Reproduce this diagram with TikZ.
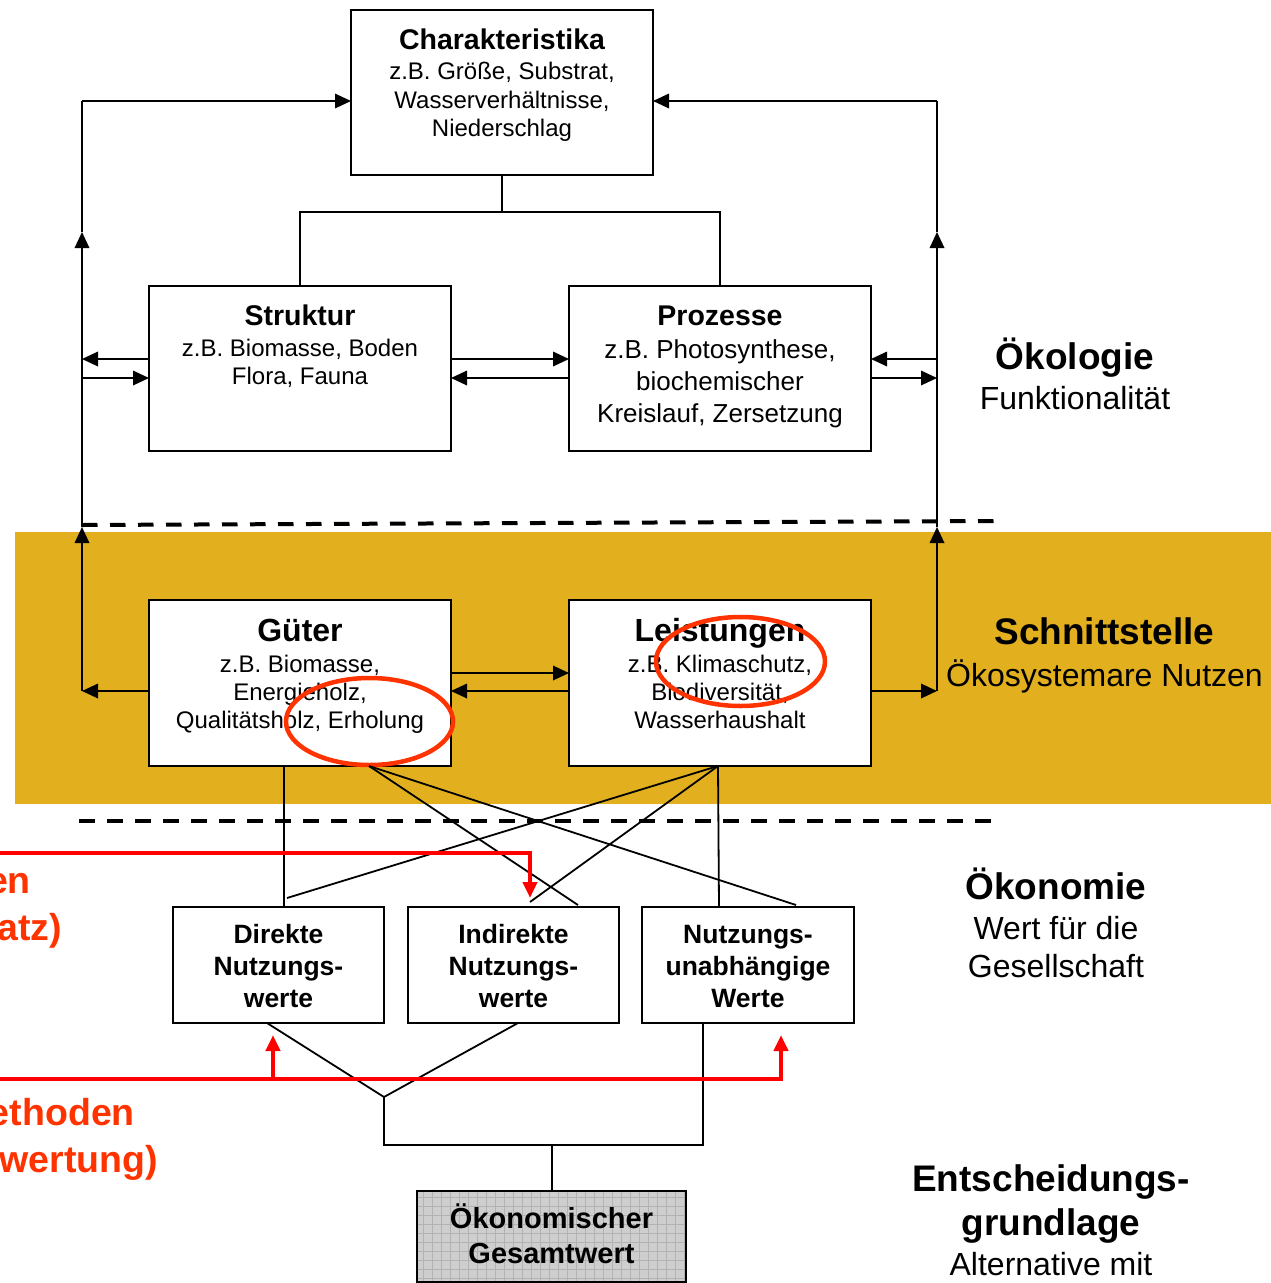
\documentclass[tikz,border=0pt]{standalone}
\usepackage{fontspec}
\setmainfont{Liberation Sans}
\usetikzlibrary{arrows.meta,shapes.geometric}
\definecolor{gold}{RGB}{226,175,31}
\definecolor{ored}{RGB}{255,51,0}
\definecolor{pred}{RGB}{255,0,0}
\definecolor{gfill}{RGB}{206,206,206}
\definecolor{gline}{RGB}{178,178,178}
\begin{document}
\begin{tikzpicture}[x=1pt,y=-1pt,
  box/.style={draw, line width=2pt, fill=white, inner sep=0pt, outer sep=0pt},
  ln/.style={line width=1.8pt},
  arr/.style={line width=1.8pt, -{Triangle[length=16pt,width=14.5pt]}},
  dline/.style={line width=4pt, dash pattern=on 15.5pt off 12.5pt},
  redarr/.style={draw=pred, line width=4pt, -{Triangle[length=16pt,width=14pt]}},
  ell/.style={draw=ored, line width=4.5pt, ellipse, inner sep=0pt},
  txt/.style={anchor=base, inner sep=0pt},
  fT/.style={font=\fontsize{28.5}{30}\selectfont\bfseries},
  fS/.style={font=\fontsize{24}{28}\selectfont},
  fP/.style={font=\fontsize{26}{30}\selectfont},
  fG/.style={font=\fontsize{32}{34}\selectfont\bfseries},
  fN/.style={font=\fontsize{26.5}{30}\selectfont\bfseries},
  fO/.style={font=\fontsize{29}{31}\selectfont\bfseries},
  fH/.style={font=\fontsize{37}{40}\selectfont\bfseries},
  fR/.style={font=\fontsize{32}{36}\selectfont},
  fRed/.style={font=\fontsize{37.5}{40}\selectfont\bfseries, text=ored, anchor=base east, inner sep=0pt}
]
\useasboundingbox (0,0) rectangle (1271,1283);
\fill[white] (0,0) rectangle (1271,1283);

% gold band
\fill[gold] (15,532) rectangle (1271,804);

% dashed separators
\draw[dline] (82,525) -- (995,521);
\draw[dline] (79,821) -- (992,821);

% boxes
\node[box, minimum width=302pt, minimum height=165pt] (char) at (502,92.5) {};
\node[box, minimum width=302pt, minimum height=165pt] (struk) at (300,368.5) {};
\node[box, minimum width=302pt, minimum height=165pt] (proz) at (720,368.5) {};
\node[box, minimum width=302pt, minimum height=166pt] (guet) at (300,683) {};
\node[box, minimum width=302pt, minimum height=166pt] (leist) at (720,683) {};
\node[box, minimum width=211pt, minimum height=116pt] (direkt) at (278.5,965) {};
\node[box, minimum width=211pt, minimum height=116pt] (indir) at (513.5,965) {};
\node[box, minimum width=212pt, minimum height=116pt] (unab) at (748,965) {};
\node[box, fill=gfill, minimum width=268.5pt, minimum height=90.5pt] (oek) at (551.5,1236.3) {};
\begin{scope}
  \clip (oek.south west) rectangle (oek.north east);
  \draw[gline, line width=0.6pt, step=9pt] (oek.south west) grid (oek.north east);
\end{scope}
\draw[line width=2pt] (oek.south west) rectangle (oek.north east);

% box texts
\node[txt,fT] (c0) at (502,49) {Charakteristika};
\node[txt,fS] (c1) at (502,79.5) {z.B. Größe, Substrat,};
\node[txt,fS] (c2) at (502,108) {Wasserverhältnisse,};
\node[txt,fS] (c3) at (502,136.5) {Niederschlag};

\node[txt,fT] (s0) at (300,325) {Struktur};
\node[txt,fS] (s1) at (300,356.5) {z.B. Biomasse, Boden};
\node[txt,fS] (s2) at (300,384.5) {Flora, Fauna};

\node[txt,fT] (p0) at (720,325) {Prozesse};
\node[txt,fP] (p1) at (720,358) {z.B. Photosynthese,};
\node[txt,fP] (p2) at (720,390) {biochemischer};
\node[txt,fP] (p3) at (720,422) {Kreislauf, Zersetzung};

\node[txt,fG] (g0) at (300,641) {Güter};
\node[txt,fS] (g1t) at (300,672) {z.B. Biomasse,};
\node[txt,fS] (g2t) at (300,700) {Energieholz,};
\node[txt,fS] (g3t) at (300,728.5) {Qualitätsholz, Erholung};

\node[txt,fG] (l0) at (720,641) {Leistungen};
\node[txt,fS] (l1t) at (720,672) {z.B. Klimaschutz,};
\node[txt,fS] (l2t) at (720,700) {Biodiversität,};
\node[txt,fS] (l3t) at (720,728.5) {Wasserhaushalt};

\node[txt,fN] (d0) at (278.5,943.5) {Direkte};
\node[txt,fN] (d1t) at (278.5,975.5) {Nutzungs-};
\node[txt,fN] (d2t) at (278.5,1007) {werte};

\node[txt,fN] (i0) at (513.5,943.5) {Indirekte};
\node[txt,fN] (i1t) at (513.5,975.5) {Nutzungs-};
\node[txt,fN] (i2t) at (513.5,1007) {werte};

\node[txt,fN] (u0) at (748,943.5) {Nutzungs-};
\node[txt,fN] (u1t) at (748,975.5) {unabhängige};
\node[txt,fN] (u2t) at (748,1007) {Werte};

\node[txt,fO] (o0) at (551.5,1228.5) {Ökonomischer};
\node[txt,fO] (o1) at (551.5,1263) {Gesamtwert};

% right-hand labels
\node[txt,fH] (k0) at (1075,369) {Ökologie};
\node[txt,fR] (k1) at (1075,409) {Funktionalität};
\node[txt,fH] (n0) at (1104.5,644) {Schnittstelle};
\node[txt,fR] (n1) at (1104.5,686) {Ökosystemare Nutzen};
\node[txt,fH] (m0) at (1056,899) {Ökonomie};
\node[txt,fR] (m1) at (1056,939) {Wert für die};
\node[txt,fR] (m2) at (1056,977) {Gesellschaft};
\node[txt,fH] (e0) at (1051,1191) {Entscheidungs-};
\node[txt,fH] (e1t) at (1051,1235) {grundlage};
\node[txt,fR] (e2t) at (1051,1275) {Alternative mit};

% red texts cut at left edge
\node[fRed] (q1) at (31,893) {en};
\node[fRed] (q2) at (62,940.5) {atz)};
\node[fRed] (q3) at (135,1125) {ethoden};
\node[fRed] (q4) at (158,1172) {wertung)};

% ellipses
\node[ell, minimum width=167pt, minimum height=87pt] (el1) at (369.5,721.5) {};
\node[ell, minimum width=169pt, minimum height=89pt] (el2) at (740.5,661.5) {};

% bus coordinates
\coordinate (Lt) at (82,101);
\coordinate (Lm) at (82,232);
\coordinate (Ld) at (82,527);
\coordinate (Lg) at (82,691);
\coordinate (La) at (82,359);
\coordinate (Lb) at (82,378);
\coordinate (Rt) at (937,101);
\coordinate (Rm) at (937,232);
\coordinate (Rd) at (937,527);
\coordinate (Rg) at (937,691);
\coordinate (Ra) at (937,359);
\coordinate (Rb) at (937,378);

% left bus
\draw[arr] (Lg) -- (Ld);
\draw[arr] (Ld) -- (Lm);
\draw[ln] (Lm) -- (Lt);
\draw[arr] (Lt) -- ([yshift=-8.5pt]char.west);
% right bus
\draw[arr] (Rg) -- (Rd);
\draw[arr] (Rd) -- (Rm);
\draw[ln] (Rm) -- (Rt);
\draw[arr] (Rt) -- ([yshift=-8.5pt]char.east);

% top tree
\coordinate (tj) at (502,212);
\draw[ln] (char.south) -- (tj);
\draw[ln] (struk.north) -- (struk.north |- tj) -- (proz.north |- tj) -- (proz.north);

% Struktur / Prozesse arrows
\draw[arr] ([yshift=9.5pt]struk.west) -- (La);
\draw[arr] (Lb) -- ([yshift=-9.5pt]struk.west);
\draw[arr] ([yshift=9.5pt]struk.east) -- ([yshift=9.5pt]proz.west);
\draw[arr] ([yshift=-9.5pt]proz.west) -- ([yshift=-9.5pt]struk.east);
\draw[arr] (Ra) -- ([yshift=9.5pt]proz.east);
\draw[arr] ([yshift=-9.5pt]proz.east) -- (Rb);

% Gueter / Leistungen arrows
\draw[arr] ([yshift=-8pt]guet.west) -- (Lg);
\draw[arr] ([yshift=-8pt]leist.east) -- (Rg);
\draw[arr] ([yshift=10pt]guet.east) -- ([yshift=10pt]leist.west);
\draw[arr] ([yshift=-8pt]leist.west) -- ([yshift=-8pt]guet.east);

% fan lines
\coordinate (ga) at (284,766);
\coordinate (gb) at (369,766);
\coordinate (la) at (718,766);
\coordinate (f1) at (578,905);
\coordinate (f2) at (796,905);
\coordinate (f3) at (287,898);
\coordinate (f4) at (530,902);
\draw[ln] (ga) -- (ga |- direkt.north);
\draw[ln] (gb) -- (f1);
\draw[ln] (gb) -- (f2);
\draw[ln] (la) -- (f3);
\draw[ln] (la) -- (f4);
\draw[ln] (la) -- (719,907);

% bottom tree
\coordinate (db) at (267,1023);
\coordinate (ib) at (518,1023);
\coordinate (ub) at (703,1023);
\coordinate (vv) at (384,1097);
\coordinate (h1) at (384,1145);
\coordinate (h2) at (703,1145);
\coordinate (h3) at (552,1145);
\draw[ln] (db) -- (vv) -- (ib);
\draw[ln] (vv) -- (h1) -- (h2) -- (ub);
\draw[ln] (h3) -- (h3 |- oek.north);

% red arrows
\coordinate (r1s) at (0,853);
\coordinate (r1c) at (530,853);
\coordinate (r1e) at (530,898);
\draw[redarr] (r1s) -- (r1c) -- (r1e);
\coordinate (r2s) at (0,1079);
\coordinate (r2b) at (273,1079);
\coordinate (r2c) at (781,1079);
\coordinate (r2be) at (273,1035);
\coordinate (r2e) at (781,1035);
\draw[redarr] (r2s) -- (r2c) -- (r2e);
\draw[redarr] (r2b) -- (r2be);
\end{tikzpicture}
\end{document}
